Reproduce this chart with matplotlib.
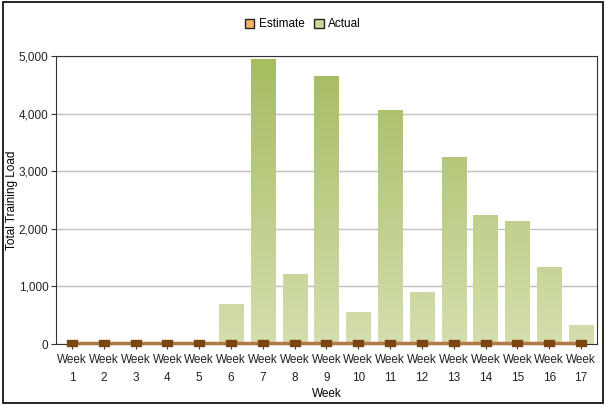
import matplotlib
matplotlib.use("Agg")
import matplotlib.pyplot as plt
from matplotlib.colors import LinearSegmentedColormap
from matplotlib.patches import Rectangle
import numpy as np

weeks = ["Week\n%d" % i for i in range(1, 18)]
actual = [0, 0, 0, 0, 0, 680, 4940, 1200, 4640, 540, 4050, 890, 3245, 2230, 2120, 1330, 315]
estimate = [20] * 17

plt.rcParams['font.family'] = ['Liberation Sans', 'DejaVu Sans']
plt.rcParams['font.size'] = 8.5

fig = plt.figure(figsize=(6.06, 4.05), dpi=100)
ax = fig.add_axes([0.0924, 0.1506, 0.8926, 0.7111])
fig.patches.append(Rectangle((0.005, 0.005), 0.99, 0.99, transform=fig.transFigure,
                             fill=False, edgecolor='black', lw=1.2))

ymax = 5000
cmap = LinearSegmentedColormap.from_list('g', ['#d4deaf', '#a5bc5e'])
x = np.arange(len(weeks))
w = 0.76
grad = np.linspace(0, 1, 256).reshape(-1, 1)
for xi, v in zip(x, actual):
    if v <= 0:
        continue
    sub = grad[:int(256 * v / ymax) + 1]
    ax.imshow(sub, cmap=cmap, vmin=0, vmax=1, origin='lower', aspect='auto',
              extent=[xi - w / 2, xi + w / 2, 0, v], zorder=2, interpolation='bilinear')

# flat rectangular marker, twice as wide as tall
flat = [(-1, -0.5), (1, -0.5), (1, 0.5), (-1, 0.5), (-1, -0.5)]
ax.plot(x, estimate, color='#b07a45', lw=2.5, zorder=3, clip_on=False)
ax.plot(x, estimate, ls='none', marker=flat, ms=7.5, color='#7a4612', zorder=4, clip_on=False)

ax.set_xlim(-0.5, len(weeks) - 0.5)
ax.set_ylim(0, ymax)
ax.set_xticks(x)
ax.set_xticklabels(weeks, linespacing=1.7)
ax.set_yticks(range(0, 5001, 1000))
ax.set_yticklabels(['{:,}'.format(v) for v in range(0, 5001, 1000)])
ax.yaxis.grid(True, color='#c0c0c0', lw=1)
ax.set_axisbelow(True)
for s in ax.spines.values():
    s.set_color('#333333')
ax.tick_params(length=3.5, color='#333333', colors='#222222')
ax.tick_params(axis='y', pad=2)
ax.set_xlabel('Week', labelpad=3)
ax.set_ylabel('Total Training Load')
ax.yaxis.set_label_coords(-0.071, 0.5)

h1 = Rectangle((0, 0), 1, 1, facecolor='#f5b06a', edgecolor='#222222')
h2 = Rectangle((0, 0), 1, 1, facecolor='#c8d89a', edgecolor='#222222')
fig.legend([h1, h2], ['Estimate', 'Actual'], loc='center', bbox_to_anchor=(0.5, 0.94),
           ncol=2, frameon=False, handlelength=0.8, handleheight=0.8,
           handletextpad=0.4, columnspacing=0.8)

fig.savefig('out.png', dpi=100)
